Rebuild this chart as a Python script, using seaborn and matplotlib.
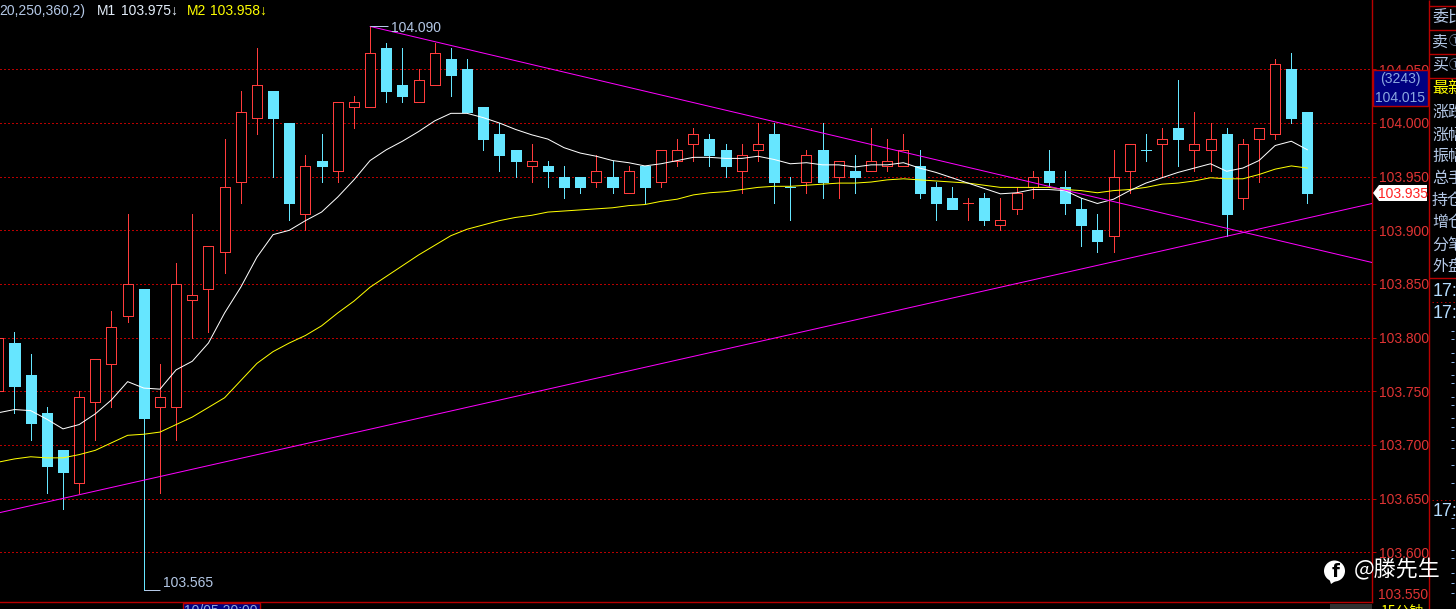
import numpy as np
import pandas as pd
import matplotlib
matplotlib.use('Agg')
import matplotlib.pyplot as plt
from matplotlib.patches import Rectangle, Polygon, Circle
import seaborn as sns

opens = [103.75, 103.795, 103.765, 103.73, 103.695, 103.665, 103.74, 103.775, 103.82, 103.845,
         103.735, 103.735, 103.835, 103.845, 103.88, 103.945, 104.005, 104.03, 104.0, 103.915,
         103.965, 103.955, 104.015, 104.015, 104.07, 104.035, 104.02, 104.035, 104.06, 104.05,
         104.015, 103.99, 103.975, 103.96, 103.96, 103.95, 103.95, 103.945, 103.95, 103.935,
         103.96, 103.945, 103.965, 103.98, 103.985, 103.975, 103.955, 103.975, 103.99, 103.94,
         103.945, 103.975, 103.95, 103.955, 103.955, 103.96, 103.96, 103.96, 103.94, 103.93,
         103.925, 103.93, 103.905, 103.92, 103.94, 103.955, 103.94, 103.92, 103.90, 103.895,
         103.955, 103.975, 103.98, 103.995, 103.975, 103.975, 103.99, 103.93, 103.985, 103.99,
         104.05, 104.01]
closes = [103.80, 103.755, 103.72, 103.68, 103.675, 103.745, 103.78, 103.81, 103.85, 103.725,
          103.745, 103.85, 103.84, 103.885, 103.94, 104.01, 104.035, 104.005, 103.925, 103.96,
          103.96, 104.02, 104.02, 104.065, 104.03, 104.025, 104.04, 104.065, 104.045, 104.01,
          103.985, 103.97, 103.965, 103.965, 103.955, 103.94, 103.94, 103.955, 103.94, 103.955,
          103.94, 103.975, 103.975, 103.99, 103.97, 103.96, 103.97, 103.98, 103.945, 103.94,
          103.97, 103.945, 103.965, 103.95, 103.965, 103.965, 103.975, 103.935, 103.925, 103.92,
          103.925, 103.91, 103.91, 103.935, 103.95, 103.945, 103.925, 103.905, 103.89, 103.95,
          103.98, 103.975, 103.985, 103.985, 103.98, 103.985, 103.915, 103.98, 103.995, 104.055,
          104.005, 103.935]
highs = [103.80, 103.805, 103.785, 103.735, 103.695, 103.75, 103.78, 103.825, 103.915, 103.845,
         103.775, 103.87, 103.915, 103.885, 103.985, 104.03, 104.07, 104.03, 104.0, 103.97,
         103.99, 104.02, 104.025, 104.09, 104.075, 104.07, 104.05, 104.075, 104.07, 104.06,
         104.015, 104.0, 103.975, 103.98, 103.965, 103.96, 103.95, 103.97, 103.965, 103.96,
         103.96, 103.975, 103.985, 103.995, 103.99, 103.98, 103.98, 104.0, 104.0, 103.95,
         103.975, 104.0, 103.965, 103.97, 103.995, 103.985, 103.99, 103.975, 103.945, 103.94,
         103.93, 103.935, 103.93, 103.94, 103.955, 103.975, 103.955, 103.93, 103.915, 103.975,
         103.98, 103.99, 103.995, 104.04, 104.01, 104.0, 103.995, 103.985, 103.995, 104.06,
         104.065, 104.01]
lows = [103.75, 103.73, 103.705, 103.655, 103.64, 103.655, 103.705, 103.735, 103.815, 103.565,
        103.655, 103.705, 103.80, 103.805, 103.86, 103.925, 103.99, 103.95, 103.91, 103.90,
        103.945, 103.945, 103.995, 104.015, 104.02, 104.02, 104.02, 104.035, 104.025, 104.01,
        103.975, 103.955, 103.95, 103.945, 103.94, 103.93, 103.935, 103.94, 103.935, 103.935,
        103.925, 103.94, 103.96, 103.965, 103.96, 103.95, 103.935, 103.965, 103.925, 103.91,
        103.935, 103.93, 103.93, 103.935, 103.955, 103.955, 103.96, 103.93, 103.91, 103.92,
        103.91, 103.905, 103.90, 103.915, 103.93, 103.94, 103.915, 103.885, 103.88, 103.88,
        103.935, 103.965, 103.95, 103.96, 103.955, 103.955, 103.895, 103.92, 103.945, 103.985,
        104.0, 103.925]

m1 = [103.730, 103.733, 103.732, 103.724, 103.715, 103.719, 103.729, 103.742, 103.759, 103.753,
      103.752, 103.770, 103.778, 103.795, 103.823, 103.847, 103.875, 103.896, 103.900, 103.909,
      103.917, 103.931, 103.947, 103.965, 103.975, 103.983, 103.992, 104.002, 104.009, 104.009,
      104.005, 104.000, 103.994, 103.989, 103.985, 103.977, 103.972, 103.969, 103.965, 103.963,
      103.960, 103.962, 103.965, 103.968, 103.968, 103.967, 103.967, 103.969, 103.966, 103.962,
      103.963, 103.961, 103.961, 103.959, 103.961, 103.961, 103.963, 103.958, 103.954, 103.949,
      103.944, 103.939, 103.934, 103.935, 103.938, 103.938, 103.937, 103.930, 103.925, 103.929,
      103.937, 103.944, 103.949, 103.954, 103.958, 103.962, 103.955, 103.958, 103.965, 103.979,
      103.983, 103.975]
m2 = [103.684, 103.687, 103.689, 103.688, 103.688, 103.691, 103.695, 103.702, 103.709, 103.710,
      103.712, 103.719, 103.726, 103.735, 103.744, 103.760, 103.776, 103.787, 103.795, 103.802,
      103.811, 103.823, 103.834, 103.847, 103.857, 103.867, 103.877, 103.886, 103.895, 103.901,
      103.905, 103.909, 103.912, 103.914, 103.917, 103.918, 103.919, 103.920, 103.921, 103.923,
      103.924, 103.927, 103.929, 103.933, 103.935, 103.936, 103.938, 103.940, 103.941, 103.941,
      103.942, 103.943, 103.944, 103.944, 103.945, 103.947, 103.948, 103.947, 103.946, 103.945,
      103.944, 103.942, 103.940, 103.940, 103.940, 103.940, 103.938, 103.937, 103.935, 103.937,
      103.938, 103.940, 103.943, 103.944, 103.946, 103.949, 103.948, 103.948, 103.952, 103.957,
      103.960, 103.958]

# trend lines drawn on the chart
rise_x = [0.1, 85.0]
rise_y = [103.637, 103.925]
fall_x = [23, 85.0]
fall_y = [104.090, 103.870]

price_ticks = [103.60, 103.65, 103.70, 103.75, 103.80, 103.85, 103.90, 103.95, 104.00, 104.05]

side_labels = ['委比', '卖', '买', '最新', '涨跌', '涨幅', '振幅', '总手', '持仓', '增仓', '分笔', '外盘']
side_label_y = [18, 42, 65, 89, 112, 135, 156, 179, 201, 223, 245, 266]
side_times_y = [292, 314, 512]
side_dash_y = [331, 339, 353, 362, 375, 383, 397, 405, 418, 427, 440, 448, 465, 483,
               518, 528, 550, 558, 573, 583, 593]

BG = '#000000'
UP = '#FF3C3C'
DOWN = '#66E6FF'
FRAME = '#B80000'
TICK_TXT = '#E03434'
PALE = '#B4C8E6'
PX = 0.72  # one pixel at dpi 100

sns.set_theme(style="dark")
plt.rcParams['font.family'] = ['Liberation Sans', 'Noto Sans CJK SC', 'DejaVu Sans']
CJK = ['Noto Sans CJK SC', 'DejaVu Sans']

fig = plt.figure(figsize=(14.56, 6.09), dpi=100, facecolor=BG)
ax = fig.add_axes([0, 6.7 / 609, 1372.3 / 1456, 602.3 / 609], facecolor=BG)

idx = np.arange(len(opens))
o = np.array(opens)
c = np.array(closes)
prev_close = np.r_[o[0], c[:-1]]
rising = (c > o) | ((c == o) & (c > prev_close))
colors = np.where(rising, UP, DOWN)

ax.vlines(idx, lows, highs, colors=colors, linewidth=PX, antialiased=False, zorder=2)
body_low = np.minimum(o, c)
body_h = np.abs(c - o)
ax.bar(idx[rising], body_h[rising], bottom=body_low[rising], width=0.62, facecolor=BG,
       edgecolor=UP, linewidth=PX, antialiased=False, zorder=3)
ax.bar(idx[~rising], body_h[~rising], bottom=body_low[~rising], width=0.62, facecolor=DOWN,
       edgecolor=DOWN, linewidth=PX, antialiased=False, zorder=3)

df = pd.DataFrame({'idx': idx, 'm1': m1, 'm2': m2})
sns.lineplot(data=df, x='idx', y='m2', ax=ax, color='#FFFF00', linewidth=PX, zorder=4)
sns.lineplot(data=df, x='idx', y='m1', ax=ax, color='#FFFFFF', linewidth=PX, zorder=4)
sns.lineplot(x=rise_x, y=rise_y, ax=ax, color='#FF00FF', linewidth=PX, zorder=5)
sns.lineplot(x=fall_x, y=fall_y, ax=ax, color='#FF00FF', linewidth=PX, zorder=5)

# extreme price notes
ax.hlines(104.090, 23, 24.1, color=PALE, linewidth=PX, zorder=5)
ax.text(24.3, 104.0885, '104.090', color=PALE, fontsize=10, va='center', ha='left', zorder=6)
ax.hlines(103.565, 9, 10.0, color=PALE, linewidth=PX, zorder=5)
ax.text(10.2, 103.571, '103.565', color=PALE, fontsize=10, va='center', ha='left', zorder=6)

ax.set_xlim(0.103, 85.01)
ax.set_ylim(103.5534, 104.1146)
ax.set_xlabel('')
ax.set_ylabel('')
ax.set_xticks([])
ax.yaxis.tick_right()
ax.set_yticks(price_ticks)
ax.set_yticklabels([f'{p:.3f}' for p in price_ticks])
ax.tick_params(axis='y', length=3, width=PX, color=FRAME, labelcolor=TICK_TXT, labelsize=10, pad=1.5,
               left=False, right=True)
ax.grid(axis='y', color=FRAME, linestyle=(0, (1.4, 2.8)), linewidth=PX)
ax.set_axisbelow(True)
for g in ax.get_ygridlines():
    g.set_antialiased(False)
for side in ['top', 'left']:
    ax.spines[side].set_visible(False)
for side in ['right', 'bottom']:
    ax.spines[side].set_color(FRAME)
    ax.spines[side].set_linewidth(1.0)

# everything around the chart, in pixel coordinates
ui = fig.add_axes([0, 0, 1, 1])
ui.set_xlim(0, 1456)
ui.set_ylim(609, 0)
ui.axis('off')

ui.text(-1, 11, '20,250,360,2)', color=PALE, fontsize=10, va='center')
ui.text(97, 11, 'M1', color='#E4EEFA', fontsize=10, va='center')
ui.text(121, 11, '103.975↓', color='#E4EEFA', fontsize=10, va='center')
ui.text(187, 11, 'M2', color='#FFFF00', fontsize=10, va='center')
ui.text(210, 11, '103.958↓', color='#FFFF00', fontsize=10, va='center')

ui.text(1378, 595, '103.550', color=TICK_TXT, fontsize=10, va='center')

ui.add_patch(Rectangle((1373, 69.5), 55, 36.5, facecolor='#000080', edgecolor=FRAME, linewidth=1))
ui.text(1400, 79, '(3243)', color='#8CA8E0', fontsize=10, va='center', ha='center')
ui.text(1400, 97.5, '104.015', color='#8CA8E0', fontsize=10, va='center', ha='center')

ui.add_patch(Polygon([(1373, 193), (1379, 185), (1427, 185), (1427, 201), (1379, 201)],
                     facecolor='#FFFFFF', edgecolor='none'))
ui.text(1403, 193.5, '103.935', color='#FF2020', fontsize=10, va='center', ha='center')

# right hand panel
ui.vlines(1429.3, 0, 609, color=FRAME, linewidth=1)
ui.hlines([6, 30, 54, 78, 278], 1429.3, 1456, color=FRAME, linewidth=1)
ui.hlines([302, 500], 1432, 1456, color=FRAME, linewidth=PX, linestyle=(0, (1.4, 2.8)))
for name, y in zip(side_labels, side_label_y):
    col = '#FFFF00' if name == '最新' else PALE
    ui.text(1432, y, name, color=col, fontsize=11.5, va='center', family=CJK)
for y in [42, 65]:
    ui.text(1449, y, '①', color='#7F92AD', fontsize=9, va='center', family=CJK)
for y in side_times_y:
    ui.text(1433, y, '17:0', color='#B4DCFF', fontsize=13, va='center')
ui.hlines(side_dash_y, 1451, 1454, color='#8CB4E6', linewidth=PX)

# bottom strip
ui.add_patch(Rectangle((182.5, 602.5), 77.5, 10, facecolor='#000080', edgecolor=FRAME, linewidth=1))
ui.text(221, 604, '10/05 20:00', color='#8CA8E0', fontsize=10, va='top', ha='center')
ui.add_patch(Rectangle((1330, 603.5), 42, 8, facecolor='#303030', edgecolor='none'))
ui.text(1381, 605, '15分钟', color='#FFFF00', fontsize=10, va='top', family=CJK)

# watermark
ui.add_patch(Circle((1334.5, 571), 10.5, facecolor='#FFFFFF', edgecolor='none', zorder=6))
ui.add_patch(Polygon([(1329, 578), (1337, 580), (1331, 584)], facecolor='#FFFFFF', edgecolor='none', zorder=6))
ui.text(1335.5, 572, 'f', color='#000000', fontsize=13, fontweight='bold', va='center', ha='center',
        family='DejaVu Sans', zorder=7)
ui.text(1354, 570, '@滕先生', color='#FFFFFF', fontsize=15.8, va='center', family=CJK, zorder=7)

fig.savefig('out.png', dpi=100, facecolor=BG)
